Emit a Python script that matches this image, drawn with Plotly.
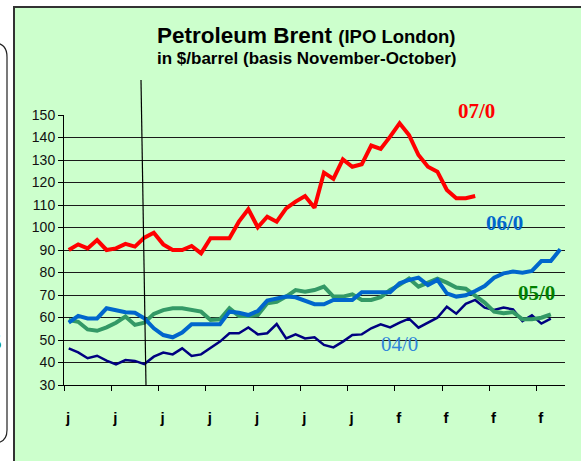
import plotly.graph_objects as go

# ---------------- data ----------------
weeks = list(range(53))
tick_positions = [-0.5, 4.5, 9.5, 14.5, 19.5, 24.5, 29.5, 34.5, 39.5, 44.5, 49.5]
tick_labels = ["j", "j", "j", "j", "j", "j", "j", "f", "f", "f", "f"]
y_ticks = [30, 40, 50, 60, 70, 80, 90, 100, 110, 120, 130, 140, 150]

series_07 = [90, 92.5, 90.7, 94.4, 90, 90.7, 92.7, 91.5, 95.5, 97.7, 92.5, 90, 90, 91.8,
             88.5, 95.2, 95.2, 95.2, 102.6, 108.1, 100.1, 104.8, 102.6, 108.5, 111.5, 114,
             108.8, 124.4, 121.6, 130.3, 127, 128.1, 136.4, 134.9, 140.4, 146.3, 141.1,
             132.2, 127, 124.8, 116.7, 113, 113, 114]
series_06 = [57.7, 60.7, 59.6, 59.6, 64.1, 63.0, 62.3, 62.1, 59.6, 55.2, 52.2, 51.2, 53.3,
             57.0, 57.0, 57.0, 57.0, 62.6, 62.1, 61.1, 62.9, 67.5, 68.4, 69.3, 69.0, 67.5,
             65.9, 65.9, 67.8, 67.8, 67.8, 71.2, 71.2, 71.2, 71.2, 75.2, 76.7, 77.7, 74.4,
             76.7, 70.7, 69.3, 69.9, 71.8, 74.0, 77.7, 79.6, 80.4, 79.9, 80.7, 85.1, 85.1,
             90.3]
series_05 = [58.9, 58.1, 54.7, 54.1, 55.6, 57.7, 60.4, 56.7, 57.7, 61.6, 63.3, 64.1, 64.1,
             63.3, 62.6, 58.9, 59.2, 64.1, 60.7, 60.7, 61.1, 66.3, 67.0, 69.3, 72.2, 71.5,
             72.2, 73.7, 69.3, 69.3, 70.3, 67.8, 67.8, 69.0, 72.2, 74.5, 77.3, 73.7, 75.5,
             77.3, 75.5, 73.3, 72.8, 69.9, 66.6, 62.6, 61.9, 62.4, 59.2, 59.2, 59.9, 61.4]
series_04 = [46.3, 44.5, 41.9, 43.0, 40.8, 39.2, 41.1, 40.7, 39.3, 42.6, 44.4, 43.6, 46.3,
             42.9, 43.6, 46.3, 49.3, 53.0, 53.0, 55.6, 52.5, 53.0, 57.1, 50.7, 52.5, 50.7,
             51.2, 47.8, 46.7, 49.3, 52.2, 52.5, 55.2, 57.0, 55.6, 57.7, 59.5, 55.5, 57.7,
             59.9, 64.8, 61.7, 66.1, 67.8, 64.4, 63.3, 64.4, 63.6, 58.4, 61.0, 57.3, 59.5]

series_names = ["04/0", "05/0", "06/0", "07/0"]

# ---------------- figure ----------------
W, H = 581, 461
L, R, T, B = 64, 16, 115, 76
PW, PH = W - L - R, H - T - B


def px(xp):
    return (xp - L) / PW


def py(yp):
    return (H - B - yp) / PH


fig = go.Figure()

fig.add_trace(go.Scatter(x=weeks[:len(series_04)], y=series_04, mode="lines", name=series_names[0],
                         line=dict(color="#000080", width=2.5)))
fig.add_trace(go.Scatter(x=weeks[:len(series_05)], y=series_05, mode="lines", name=series_names[1],
                         line=dict(color="#339966", width=4)))
fig.add_trace(go.Scatter(x=weeks[:len(series_06)], y=series_06, mode="lines", name=series_names[2],
                         line=dict(color="#0066CC", width=4)))
fig.add_trace(go.Scatter(x=weeks[:len(series_07)], y=series_07, mode="lines", name=series_names[3],
                         line=dict(color="#FF0000", width=4)))

shapes = [
    # green panel
    dict(type="rect", xref="paper", yref="paper", x0=px(14), x1=px(590), y0=py(470), y1=py(7),
         fillcolor="#CCFFCC", line=dict(color="#333333", width=2), layer="below"),
    # rounded box on the left (partially visible)
    dict(type="path", xref="paper", yref="paper",
         path=(f"M {px(-20)},{py(43)} L {px(-6)},{py(43)} "
               f"Q {px(7)},{py(43)} {px(7)},{py(57)} L {px(7)},{py(430)} "
               f"Q {px(7)},{py(443)} {px(-6)},{py(443)} L {px(-20)},{py(443)}"),
         line=dict(color="#222222", width=1.2), layer="above"),
    # vertical marker line
    dict(type="line", xref="paper", yref="paper", x0=px(141), y0=py(80), x1=px(146), y1=py(386),
         line=dict(color="#000000", width=1.2), layer="above"),
]

annotations = [
    dict(xref="paper", yref="paper", x=px(306), y=py(35), xanchor="center", yanchor="middle",
         text="<b>Petroleum Brent <span style='font-size:18.5px'>(IPO London)</span></b>",
         showarrow=False, font=dict(family="Liberation Sans, Arial", size=22.5, color="#000000")),
    dict(xref="paper", yref="paper", x=px(306), y=py(59), xanchor="center", yanchor="middle",
         text="<b>in $/barrel (basis November-October)</b>",
         showarrow=False, font=dict(family="Liberation Sans, Arial", size=17, color="#000000")),
    dict(xref="paper", yref="paper", x=px(476), y=py(111), xanchor="center", yanchor="middle",
         text="<b>07/0</b>", showarrow=False,
         font=dict(family="Liberation Serif, Times New Roman", size=21, color="#FF0000")),
    dict(xref="paper", yref="paper", x=px(504), y=py(223), xanchor="center", yanchor="middle",
         text="<b>06/0</b>", showarrow=False,
         font=dict(family="Liberation Serif, Times New Roman", size=21, color="#0066CC")),
    dict(xref="paper", yref="paper", x=px(536), y=py(293), xanchor="center", yanchor="middle",
         text="<b>05/0</b>", showarrow=False,
         font=dict(family="Liberation Serif, Times New Roman", size=21, color="#008000")),
    dict(xref="paper", yref="paper", x=px(399), y=py(344), xanchor="center", yanchor="middle",
         text="04/0", showarrow=False,
         font=dict(family="Liberation Serif, Times New Roman", size=21, color="#2F86DA")),
    dict(xref="paper", yref="paper", x=px(4), y=py(342), xanchor="right", yanchor="middle",
         text="<b>5</b>", showarrow=False,
         font=dict(family="Liberation Serif, Times New Roman", size=21, color="#008000")),
]

fig.update_layout(
    width=W, height=H, autosize=False,
    margin=dict(l=L, r=R, t=T, b=B, pad=0),
    paper_bgcolor="#FFFFFF",
    plot_bgcolor="rgba(0,0,0,0)",
    showlegend=False,
    shapes=shapes,
    annotations=annotations,
    xaxis=dict(range=[-0.5, 52.5], tickmode="array", tickvals=tick_positions, ticktext=tick_labels,
               ticks="outside", ticklen=5, tickcolor="#000000", showline=True, linecolor="#000000",
               linewidth=1, showgrid=False, zeroline=False, ticklabelshift=4,
               ticklabelstandoff=14,
               tickfont=dict(family="Liberation Sans, Arial", size=15, color="#000000", weight="bold")),
    yaxis=dict(range=[30, 150], tickmode="array", tickvals=y_ticks, ticks="outside", ticklen=5,
               tickcolor="#000000", showline=True, linecolor="#000000", linewidth=1,
               showgrid=True, gridcolor="#1a1a1a", gridwidth=1, zeroline=False,
               tickfont=dict(family="Liberation Sans, Arial", size=14, color="#111111")),
)

fig.write_html("out.html", config={"displayModeBar": False},
               post_script="document.body.style.margin='0px';document.body.style.overflow='hidden';")
